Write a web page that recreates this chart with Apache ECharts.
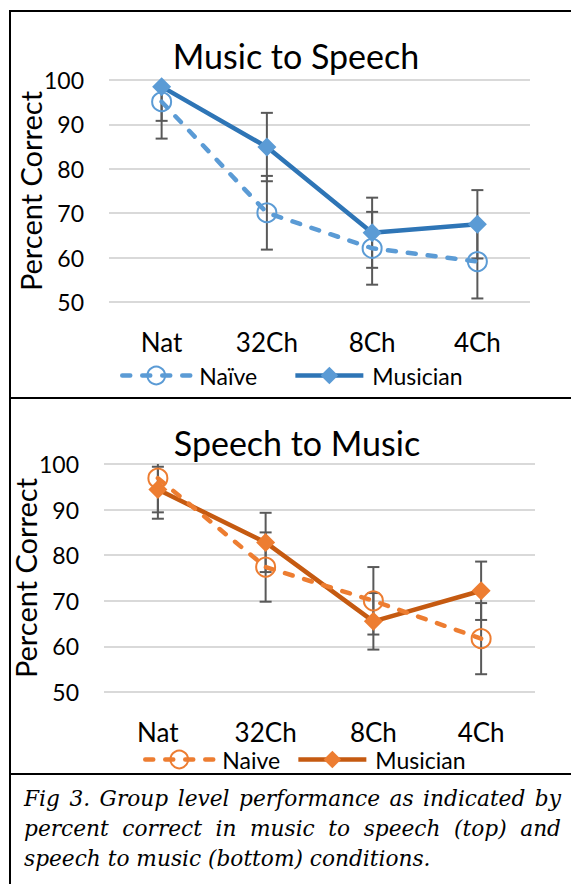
<!DOCTYPE html>
<html><head><meta charset="utf-8">
<script src="https://cdn.jsdelivr.net/npm/echarts@6/dist/echarts.min.js"></script>
<style>
html,body{margin:0;padding:0;background:#fff;width:571px;height:884px;overflow:hidden;}
#chart{position:absolute;left:0;top:0;width:571px;height:884px;}
.bx{position:absolute;background:#000;}
#caption{position:absolute;left:24px;top:784px;width:537px;font-family:'DejaVu Serif';font-style:italic;font-size:21.7px;line-height:30px;color:#000;}
#caption .j{text-align:justify;text-align-last:justify;}
#caption .n{white-space:nowrap;}
</style></head>
<body>
<div class="bx" style="left:9px;top:10px;width:600px;height:2px;"></div>
<div class="bx" style="left:9px;top:10px;width:2px;height:874px;"></div>
<div class="bx" style="left:9px;top:397px;width:600px;height:2px;"></div>
<div class="bx" style="left:9px;top:773px;width:600px;height:2px;"></div>
<div id="chart"></div>
<div id="caption">
<div class="j">Fig 3. Group level performance as indicated by</div>
<div class="j">percent correct in music to speech (top) and</div>
<div class="n">speech to music (bottom) conditions.</div>
</div>
<script>
const categories = ['Nat', '32Ch', '8Ch', '4Ch'];
const topTitle = 'Music to Speech';
const bottomTitle = 'Speech to Music';
const yName = 'Percent Correct';
// Music to Speech
const m2sNaive = [95.1, 70.1, 62.1, 59.1];
const m2sNaiveErr = [8.3, 8.3, 8.2, 8.3];
const m2sMusician = [98.5, 84.9, 65.6, 67.5];
const m2sMusicianErr = [7.7, 7.7, 7.9, 7.7];
// Speech to Music
const s2mNaive = [96.9, 77.4, 70.0, 61.7];
const s2mNaiveErr = [8.9, 7.6, 7.4, 7.8];
const s2mMusician = [94.4, 82.8, 65.5, 72.2];
const s2mMusicianErr = [5.0, 6.5, 6.2, 6.4];

const FONT = 'Lato';
const YMIN = 50, YMAX = 100;

function errData(vals, errs) {
  return vals.map((v, i) => [i, v, errs[i]]);
}
function errRender(params, api) {
  const i = api.value(0), v = api.value(1), e = api.value(2);
  const hiV = v + e, loV = v - e;
  const hi = api.coord([i, Math.min(hiV, YMAX)]);
  const lo = api.coord([i, Math.max(loV, YMIN)]);
  const w = 6;
  const st = { stroke: '#595959', lineWidth: 2 };
  const ch = [{ type: 'line', shape: { x1: hi[0], y1: hi[1], x2: lo[0], y2: lo[1] }, style: st }];
  if (hiV <= YMAX) ch.push({ type: 'line', shape: { x1: hi[0] - w, y1: hi[1], x2: hi[0] + w, y2: hi[1] }, style: st });
  if (loV >= YMIN) ch.push({ type: 'line', shape: { x1: lo[0] - w, y1: lo[1], x2: lo[0] + w, y2: lo[1] }, style: st });
  return { type: 'group', children: ch };
}
function errSeries(idx, vals, errs) {
  return {
    type: 'custom', xAxisIndex: idx, yAxisIndex: idx, renderItem: errRender,
    data: errData(vals, errs), encode: { x: 0, y: 1 }, z: 2, silent: true
  };
}
function naiveSeries(idx, name, vals, color) {
  return {
    type: 'line', name: name, xAxisIndex: idx, yAxisIndex: idx, data: vals,
    symbol: 'circle', symbolSize: 19,
    itemStyle: { color: 'rgba(255,255,255,0)', borderColor: color, borderWidth: 2 },
    lineStyle: { color: color, width: 4.5, type: [8, 12], cap: 'round' },
    z: 4, emphasis: { disabled: true }
  };
}
function musSeries(idx, name, vals, lineColor, markColor) {
  return {
    type: 'line', name: name, xAxisIndex: idx, yAxisIndex: idx, data: vals,
    symbol: 'diamond', symbolSize: 19,
    itemStyle: { color: markColor },
    lineStyle: { color: lineColor, width: 4.5 },
    z: 3, emphasis: { disabled: true }
  };
}
function xAx(idx) {
  return {
    type: 'category', gridIndex: idx, data: categories, boundaryGap: true,
    axisLine: { show: false }, axisTick: { show: false }, splitLine: { show: false },
    axisLabel: { fontSize: 26, fontFamily: FONT, color: '#000', margin: 27 }
  };
}
function yAx(idx) {
  return {
    type: 'value', gridIndex: idx, min: YMIN, max: YMAX, interval: 10,
    axisLine: { show: false }, axisTick: { show: false },
    splitLine: { lineStyle: { color: '#D9D9D9', width: 2 } },
    axisLabel: { fontSize: 23, fontFamily: FONT, color: '#000', margin: 25 },
    name: yName, nameLocation: 'middle', nameRotate: 90, nameGap: 64,
    nameMoveOverlap: false,
    nameTextStyle: { fontSize: 29, fontFamily: FONT, color: '#000' }
  };
}
function legendOf(left, top, gap, names) {
  return {
    data: names, left: left, top: top, orient: 'horizontal',
    itemWidth: 68, itemHeight: 22, itemGap: gap,
    formatter: n => n.trim(),
    textStyle: { fontSize: 23, fontFamily: FONT, color: '#000', padding: [0, 0, 0, 4] },
    lineStyle: { width: 4.5 }, itemStyle: { borderWidth: 2 },
    selectedMode: false
  };
}

const chart = echarts.init(document.getElementById('chart'), null, { renderer: 'svg' });
chart.setOption({
  animation: false,
  grid: [
    { left: 109, top: 80, width: 421, height: 222 },
    { left: 104, top: 464, width: 431, height: 228 }
  ],
  xAxis: [xAx(0), xAx(1)],
  yAxis: [yAx(0), yAx(1)],
  legend: [
    legendOf(115, 359, 36, ['Naïve', 'Musician']),
    legendOf(138, 743, 16, ['Naive', 'Musician '])
  ],
  graphic: [
    { type: 'text', style: { text: topTitle, x: 296, y: 55, align: 'center', verticalAlign: 'middle', fontSize: 34, fontFamily: FONT, fill: '#000' } },
    { type: 'text', style: { text: bottomTitle, x: 297, y: 442, align: 'center', verticalAlign: 'middle', fontSize: 34, fontFamily: FONT, fill: '#000' } }
  ],
  series: [
    errSeries(0, m2sNaive, m2sNaiveErr),
    errSeries(0, m2sMusician, m2sMusicianErr),
    naiveSeries(0, 'Naïve', m2sNaive, '#5B9BD5'),
    musSeries(0, 'Musician', m2sMusician, '#2E75B6', '#5B9BD5'),
    errSeries(1, s2mNaive, s2mNaiveErr),
    errSeries(1, s2mMusician, s2mMusicianErr),
    naiveSeries(1, 'Naive', s2mNaive, '#ED7D31'),
    musSeries(1, 'Musician ', s2mMusician, '#C55A11', '#ED7D31')
  ]
});
</script>
</body></html>
